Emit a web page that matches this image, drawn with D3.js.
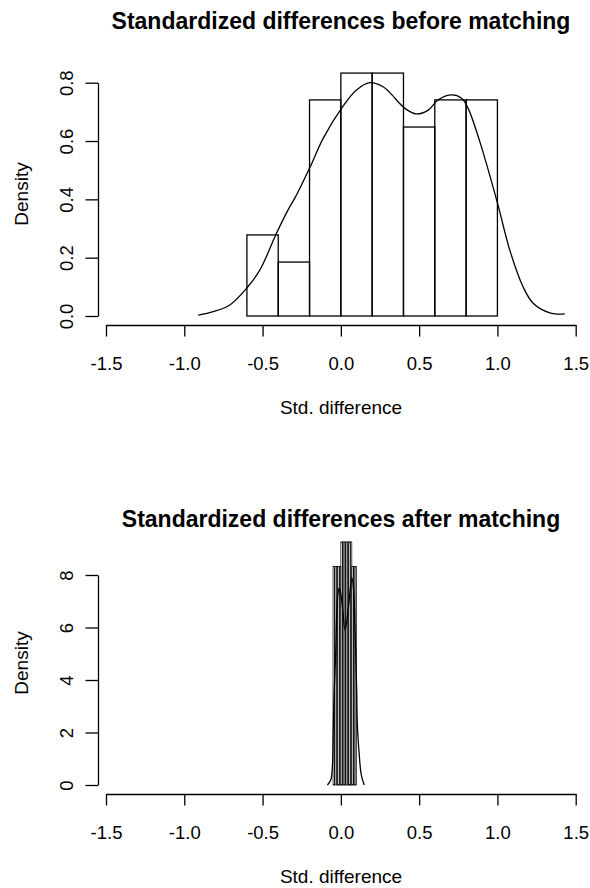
<!DOCTYPE html>
<html>
<head>
<meta charset="utf-8">
<script src="https://cdn.jsdelivr.net/npm/d3@7"></script>
<style>
  html, body { margin: 0; padding: 0; background: #fff; }
  svg { display: block; }
  text { font-family: "Liberation Sans", Arial, sans-serif; fill: #000; }
</style>
</head>
<body>
<svg id="chart" width="590" height="888"></svg>
<script>
// ---------- data ----------
const xTicks = [-1.5, -1.0, -0.5, 0.0, 0.5, 1.0, 1.5];
const xTickLabels = ["-1.5", "-1.0", "-0.5", "0.0", "0.5", "1.0", "1.5"];

// before matching: histogram (breaks + density)
const beforeBreaks = [-0.6, -0.4, -0.2, 0.0, 0.2, 0.4, 0.6, 0.8, 1.0];
const beforeDensity = [0.278, 0.185, 0.741, 0.833, 0.833, 0.648, 0.741, 0.741];
const beforeYTicks = [0.0, 0.2, 0.4, 0.6, 0.8];
const beforeYTickLabels = ["0.0", "0.2", "0.4", "0.6", "0.8"];
// kernel density curve
const beforeCurveX = [-0.911, -0.815, -0.709, -0.602, -0.517, -0.411, -0.326, -0.294, -0.198, -0.113, 0.004, 0.100, 0.185, 0.270, 0.313, 0.409, 0.483, 0.558, 0.621, 0.707, 0.771, 0.813, 0.888, 1.000, 1.079, 1.164, 1.228, 1.335, 1.430];
const beforeCurveY = [0.003, 0.015, 0.038, 0.095, 0.158, 0.284, 0.375, 0.404, 0.509, 0.609, 0.712, 0.775, 0.800, 0.786, 0.766, 0.712, 0.693, 0.706, 0.741, 0.758, 0.747, 0.712, 0.597, 0.388, 0.226, 0.100, 0.044, 0.011, 0.007];

// after matching
const afterBreaks = [-0.05, -0.04, -0.03, -0.02, -0.01, 0.00, 0.01, 0.02, 0.03, 0.04, 0.05, 0.06, 0.07, 0.08, 0.09, 0.10];
const afterDensity = [8.33, 8.33, 8.33, 8.33, 8.33, 9.26, 9.26, 9.26, 9.26, 9.26, 9.26, 9.26, 8.33, 8.33, 8.33];
const afterYTicks = [0, 2, 4, 6, 8];
const afterYTickLabels = ["0", "2", "4", "6", "8"];
const afterCurveX = [-0.086, -0.064, -0.054, -0.049, -0.043, -0.033, -0.027, -0.020, -0.011, -0.001, 0.010, 0.027, 0.049, 0.070, 0.082, 0.091, 0.101, 0.106, 0.117, 0.130, 0.149];
const afterCurveY = [0.0, 0.2, 0.7, 2.0, 3.5, 5.0, 6.4, 7.2, 7.5, 7.3, 6.8, 5.9, 6.8, 7.9, 7.4, 5.8, 3.6, 2.2, 1.2, 0.4, 0.0];

const titles = ["Standardized differences before matching", "Standardized differences after matching"];
const xLabel = "Std. difference";
const yLabel = "Density";

// ---------- drawing ----------
const svg = d3.select("#chart");
const LW = 1.3;
const FONT = '"Liberation Sans", Arial, sans-serif';

function panel(cfg) {
  const g = svg.append("g");
  const x = d3.scaleLinear().domain([-1.5, 1.5]).range([106, 575.7]);
  const y = d3.scaleLinear().domain(cfg.yDomain).range(cfg.yRange);

  // bars
  const bins = cfg.density.map((d, i) => ({ x0: cfg.breaks[i], x1: cfg.breaks[i + 1], d }));
  g.selectAll("rect.bar").data(bins).join("rect")
    .attr("class", "bar")
    .attr("x", b => x(b.x0))
    .attr("width", b => x(b.x1) - x(b.x0))
    .attr("y", b => y(b.d))
    .attr("height", b => y(0) - y(b.d))
    .attr("fill", "none")
    .attr("stroke", "#000")
    .attr("stroke-width", cfg.barLW);

  // density curve
  const pts = cfg.cx.map((v, i) => [v, cfg.cy[i]]);
  g.append("path")
    .datum(pts)
    .attr("d", d3.line().x(p => x(p[0])).y(p => y(p[1])).curve(d3.curveCatmullRom.alpha(0.5)))
    .attr("fill", "none")
    .attr("stroke", "#000")
    .attr("stroke-width", LW);

  // x axis
  const xa = g.append("g").attr("transform", `translate(0,${cfg.xAxisY})`)
    .call(d3.axisBottom(x).tickValues(xTicks).tickFormat((d, i) => xTickLabels[i]).tickSize(11.5).tickSizeOuter(0));
  xa.select(".domain").attr("stroke-width", LW);
  xa.selectAll(".tick line").attr("stroke-width", LW);
  xa.selectAll(".tick text").attr("y", 0).attr("dy", 0)
    .attr("transform", "translate(0,44.5)")
    .style("font-size", "18.5px").style("font-family", FONT);

  // y axis
  const ya = g.append("g").attr("transform", `translate(98,0)`)
    .call(d3.axisLeft(y).tickValues(cfg.yTicks).tickFormat((d, i) => cfg.yTickLabels[i]).tickSize(12.5).tickSizeOuter(0));
  ya.select(".domain").attr("stroke-width", LW);
  ya.selectAll(".tick line").attr("stroke-width", LW);
  ya.selectAll(".tick text")
    .attr("x", 0).attr("dy", 0)
    .attr("transform", "translate(-25,0) rotate(-90)")
    .attr("text-anchor", "middle")
    .style("font-size", "18.5px").style("font-family", FONT);

  // labels
  g.append("text").attr("x", 341).attr("y", cfg.titleY).attr("text-anchor", "middle")
    .style("font-size", "23px").style("font-weight", "bold").text(cfg.title);
  g.append("text").attr("x", 341).attr("y", cfg.xAxisY + 88.5).attr("text-anchor", "middle")
    .style("font-size", "19px").text(xLabel);
  g.append("text").attr("transform", `translate(28,${cfg.yLabelY}) rotate(-90)`).attr("text-anchor", "middle")
    .style("font-size", "19px").text(yLabel);
}

panel({
  breaks: beforeBreaks, density: beforeDensity, cx: beforeCurveX, cy: beforeCurveY, barLW: LW,
  yDomain: [0, 0.8], yRange: [316, 82.7], yTicks: beforeYTicks, yTickLabels: beforeYTickLabels,
  xAxisY: 325, titleY: 29, yLabelY: 194, title: titles[0]
});
panel({
  breaks: afterBreaks, density: afterDensity, cx: afterCurveX, cy: afterCurveY, barLW: 0.7,
  yDomain: [0, 8], yRange: [785, 575], yTicks: afterYTicks, yTickLabels: afterYTickLabels,
  xAxisY: 794, titleY: 527, yLabelY: 663, title: titles[1]
});
</script>
</body>
</html>
